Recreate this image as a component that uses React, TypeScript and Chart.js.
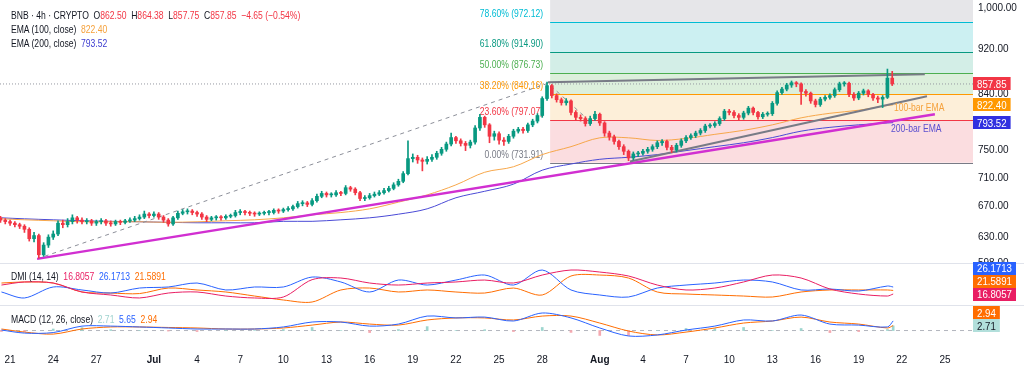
import React, { useEffect, useRef } from 'react';
import { Chart, registerables } from 'chart.js';

Chart.register(...registerables);

const FONT = "'Liberation Sans', Arial, sans-serif";
const TEXT = '#131722';
const UP = '#089981';
const DOWN = '#f23645';
const SQUEEZE = 0.78;

// ---- time axis (days since 21 Jun 00:00) ----
const viewStartDay = -0.7;
const viewEndDay = 66.95;
const xTickDays = [0, 3, 6, 10, 13, 16, 19, 22, 25, 28, 31, 34, 37, 41, 44, 47, 50, 53, 56, 59, 62, 65];
const xTickLabels = ['21', '24', '27', 'Jul', '4', '7', '10', '13', '16', '19', '22', '25', '28', 'Aug', '4', '7', '10', '13', '16', '19', '22', '25'];

// ---- price pane ----
const priceTicks = [598, 630, 670, 710, 750, 840, 920, 1000];
const priceMin = 598;
const priceMax = 1016;

// 8h candles, first one at 20 Jun 16:00
const candleStartDay = -2 / 3;
const candleStepDays = 1 / 3;
const firstOpen = 655;
const closes = [
  652, 650, 648, 646, 644, 640, 628, 632, 608, 620,
  630, 634, 648, 646, 650, 655, 652, 650, 651, 648,
  650, 651, 648, 647, 650, 649, 651, 652, 654, 656,
  660, 658, 660, 656, 652, 647, 655, 661, 663, 664,
  662, 660, 656, 653, 655, 656, 655, 657, 658, 662,
  663, 662, 661, 660, 661, 662, 662, 665, 664, 666,
  667, 670, 674, 675, 673, 678, 684, 688, 686, 686,
  689, 688, 696, 694, 689, 681, 682, 685, 687, 689,
  692, 695, 700, 705, 716, 738, 740, 736, 734, 737,
  740, 746, 752, 760, 770, 765, 761, 758, 763, 785,
  802, 790, 772, 776, 766, 764, 772, 780, 783, 781,
  790, 796, 805, 833, 855, 838, 831, 826, 829, 810,
  802, 800, 792, 800, 807, 793, 777, 771, 764, 756,
  749, 739, 745, 746, 749, 752, 756, 762, 764, 755,
  751, 758, 765, 770, 773, 777, 781, 788, 789, 792,
  800, 812, 810, 805, 802, 809, 817, 810, 803, 807,
  808, 825, 843, 849, 856, 860, 858, 845, 842, 829,
  823, 832, 835, 838, 848, 858, 859, 840, 834, 842,
  846, 840, 834, 832, 835, 868, 857.85,
];
const highs = [
  657, 654, 652, 650, 648, 646, 642, 636, 634, 623,
  633, 638, 651, 652, 654, 659, 657, 655, 654, 653,
  652, 654, 653, 651, 652, 652, 653, 655, 657, 659,
  664, 662, 663, 662, 658, 654, 657, 664, 666, 667,
  666, 664, 662, 658, 657, 658, 658, 659, 660, 665,
  666, 665, 664, 663, 663, 664, 665, 667, 667, 668,
  670, 672, 677, 678, 677, 681, 687, 691, 690, 689,
  692, 691, 699, 698, 696, 691, 685, 688, 690, 692,
  695, 698, 703, 708, 719, 765, 745, 743, 739, 741,
  744, 749, 755, 763, 777, 772, 768, 764, 766, 789,
  807, 804, 792, 780, 779, 770, 775, 783, 786, 786,
  793, 799, 808, 836, 861, 857, 841, 834, 833, 831,
  813, 806, 803, 804, 812, 809, 795, 780, 774, 766,
  759, 751, 748, 749, 752, 755, 759, 765, 767, 766,
  758, 761, 768, 773, 776, 780, 784, 791, 792, 795,
  803, 815, 815, 813, 808, 812, 820, 819, 812, 810,
  811, 828, 846, 852, 859, 863, 862, 860, 848, 844,
  832, 835, 838, 841, 851, 861, 862, 861, 843, 845,
  849, 848, 842, 837, 838, 884, 880,
];
const lows = [
  649, 647, 645, 643, 641, 636, 625, 624, 604, 606,
  617, 627, 632, 642, 643, 647, 648, 647, 647, 645,
  645, 647, 645, 644, 645, 646, 647, 649, 650, 652,
  654, 655, 656, 653, 649, 644, 645, 653, 659, 660,
  659, 657, 653, 650, 651, 652, 652, 653, 655, 656,
  659, 659, 658, 657, 658, 659, 659, 660, 661, 662,
  664, 665, 668, 671, 670, 671, 676, 682, 683, 683,
  684, 685, 686, 691, 686, 678, 678, 680, 683, 685,
  687, 690, 693, 698, 703, 714, 733, 731, 720, 730,
  734, 737, 743, 749, 757, 761, 757, 750, 754, 760,
  781, 786, 762, 766, 760, 758, 761, 769, 777, 777,
  778, 787, 793, 802, 830, 834, 827, 822, 822, 806,
  797, 796, 788, 789, 797, 789, 772, 766, 760, 752,
  744, 735, 736, 741, 743, 746, 749, 753, 758, 751,
  747, 748, 755, 762, 767, 770, 774, 778, 785, 786,
  789, 797, 806, 801, 798, 799, 806, 806, 799, 800,
  804, 805, 822, 840, 846, 852, 853, 823, 837, 825,
  819, 820, 829, 832, 835, 845, 854, 836, 830, 831,
  839, 836, 830, 826, 818, 833, 855,
];

// indicator samples (days)
const sampleDays = [-0.6, 1, 3, 5, 7, 9, 11, 13, 15, 17, 19, 21, 23, 25, 27, 29, 31, 33, 35, 37, 39, 41, 43, 45, 47, 49, 51, 53, 55, 57, 59, 61, 61.4];
const ema100 = [653.7, 652.4, 651.1, 649.8, 649.8, 649.8, 649.1, 649.8, 651.1, 652.4, 655, 659, 662, 667, 676, 686, 700, 718, 726, 744, 756, 769.6, 769.6, 765.5, 768.7, 775, 781.3, 790, 801.2, 808.6, 813.6, 821.5, 822.4];
const ema200 = [655, 653.7, 652.4, 651.1, 650.4, 649.8, 649.1, 648.5, 648.5, 648.5, 650.4, 650.4, 652.4, 655, 659.8, 667, 682, 691, 701, 721, 730, 737, 740, 744, 750, 756, 762, 770, 780, 786, 790, 793, 793.52];

// DMI pane
const dmiPlus = [19.5, 11.5, 26.2, 22.2, 18.1, 24.8, 26.2, 31.5, 22.2, 26.2, 26.2, 39.5, 32.9, 19.5, 35.5, 28.8, 35.5, 42.2, 28.8, 48.9, 22.2, 15.5, 12.8, 24.8, 28.8, 31.5, 35.5, 32.9, 22.2, 23.5, 20.8, 27.5, 26.1713];
const dmiMinus = [31.5, 32.9, 31.5, 19.5, 18.1, 17.4, 24.8, 22.2, 19.5, 14.1, 8.8, 6.1, 22.2, 24.8, 19.5, 22.2, 19.5, 18.1, 24.8, 15.5, 40.9, 42.2, 38.2, 19.5, 16.8, 15.5, 14.1, 12.8, 19.5, 22.2, 22.2, 22.2, 21.5891];
const adx = [28.8, 32.9, 31.5, 19.5, 15.5, 11.5, 18.1, 19.5, 14.1, 11.5, 12.8, 36, 38.2, 31.5, 28.8, 31.5, 32.9, 35.5, 31.5, 42.2, 48.9, 46.2, 40.9, 28.8, 22.2, 24.8, 32.9, 42.2, 38.2, 23.5, 16.8, 14.1, 16.8057];

// MACD pane
const macdLine = [0.3, -1.5, -1.2, 2.6, 2.6, 2.1, 1.5, 0.9, 0.9, 0.9, 2.1, 5.0, 5.0, 2.6, 3.8, 8.5, 7.4, 7.9, 5.6, 10.3, 7.4, 1.5, -3.2, -2.6, 0.3, 2.6, 6.2, 5.6, 9.1, 3.8, 3.2, 2.1, 5.65];
const signalLine = [0.9, -0.9, -2.1, 0.9, 2.1, 2.1, 1.8, 1.5, 0.9, 0.9, 1.5, 3.2, 5.0, 3.8, 3.2, 6.2, 7.4, 7.4, 6.2, 8.5, 8.5, 4.4, -0.3, -2.6, -0.9, 1.5, 4.4, 5.6, 7.9, 5.0, 3.8, 1.5, 2.94];
const macdHist = [-0.6, -0.6, 0.9, 1.7, 0.5, 0, -0.3, -0.6, 0, 0, 0.6, 1.8, 0, -1.2, 0.6, 2.3, 0, 0.5, -0.6, 1.8, -1.1, -2.9, -2.9, 0, 1.2, 1.1, 1.8, 0, 1.2, -1.2, -0.6, 0.6, 2.71];

// Fibonacci retracement
const fibStartDay = 37.55;
const fibPercents = ['0.00%', '23.60%', '38.20%', '50.00%', '61.80%', '78.60%'];
const fibPrices = [731.91, 797.07, 840.16, 876.73, 914.9, 972.12];
const fibColors = ['#787b86', '#f23645', '#ff9800', '#4caf50', '#089981', '#00bcd4'];
const fibFills = ['#fbdde0', '#fdefd9', '#dcefdc', '#d3eee7', '#ccf0f2', '#e6e6e9'];

// drawn trend lines
const magentaDays = [1.88, 64.3];
const magentaPrices = [603, 807];
const greyTopDays = [37.4, 63.6];
const greyTopPrices = [861, 875];
const greyRiseDays = [43.1, 63.75];
const greyRisePrices = [733.6, 836.8];
const dashDays = [1.88, 37.4, 40.1];
const dashPrices = [603, 859, 800];
const lastPrice = 857.85;

// EMA annotations
const emaLabelTexts = ['100-bar EMA', '200-bar EMA'];
const emaLabelDays = [61.45, 61.25];
const emaLabelPrices = [818, 784];
const emaLabelColors = ['#f5a13c', '#5b4fcf'];

// axis badges
const mainBadgeValues = [857.85, 822.4, 793.52];
const mainBadgeColors = ['#f23645', '#ff9800', '#3030e0'];
const dmiBadgeValues = [26.1713, 21.5891, 16.8057];
const dmiBadgeColors = ['#2962ff', '#ff6d00', '#e91e63'];
const macdBadgeValues = [2.94, 2.71];
const macdBadgeColors = ['#ff6d00', '#b2dfdb'];
const macdBadgeText = ['#ffffff', '#131722'];

const dayOf = (i: number) => candleStartDay + i * candleStepDays;
const opens = closes.map((c, i) => (i === 0 ? firstOpen : closes[i - 1]));
const pts = (days: number[], vals: number[]) => days.map((d, i) => ({ x: d, y: vals[i] }));

function squeezedText(ctx: any, text: string, x: number, y: number, align: string) {
  ctx.save();
  ctx.translate(x, y);
  ctx.scale(SQUEEZE, 1);
  ctx.textAlign = align;
  ctx.fillText(text, 0, 0);
  ctx.restore();
}

function drawBadges(chart: any, scaleId: string, values: number[], colors: string[], texts: string[], digits: number) {
  const s = chart.scales[scaleId];
  const ctx = chart.ctx;
  const items = values.map((v, i) => ({ v, i, y: s.getPixelForValue(v) })).sort((a, b) => b.y - a.y);
  for (let k = 1; k < items.length; k++) {
    if (items[k].y > items[k - 1].y - 13) items[k].y = items[k - 1].y - 13;
  }
  ctx.save();
  ctx.font = `11px ${FONT}`;
  ctx.textBaseline = 'middle';
  for (const it of items) {
    const label = it.v.toFixed(digits);
    const w = ctx.measureText(label).width * 0.88 + 8;
    ctx.fillStyle = colors[it.i];
    ctx.fillRect(s.left, Math.round(it.y - 6.5), w, 13);
    ctx.fillStyle = texts[it.i];
    ctx.save();
    ctx.translate(s.left + 4, Math.round(it.y) + 0.5);
    ctx.scale(0.88, 1);
    ctx.textAlign = 'left';
    ctx.fillText(label, 0, 0);
    ctx.restore();
  }
  ctx.restore();
}

const tvPlugin = {
  id: 'tv',
  beforeDatasetsDraw(chart: any) {
    const { ctx, chartArea, scales } = chart;
    const xs = scales.x;
    const ys = scales.y;
    const x0 = xs.getPixelForValue(fibStartDay);
    const x1 = chartArea.right;
    ctx.save();
    for (let i = 0; i < fibPrices.length; i++) {
      const yA = ys.getPixelForValue(fibPrices[i]);
      const yB = i + 1 < fibPrices.length ? ys.getPixelForValue(fibPrices[i + 1]) : ys.top;
      ctx.fillStyle = fibFills[i];
      ctx.fillRect(x0, yB, x1 - x0, yA - yB);
    }
    ctx.lineWidth = 1;
    ctx.font = `11px ${FONT}`;
    ctx.textBaseline = 'middle';
    for (let i = 0; i < fibPrices.length; i++) {
      const y = Math.round(ys.getPixelForValue(fibPrices[i])) + 0.5;
      ctx.strokeStyle = fibColors[i];
      ctx.beginPath();
      ctx.moveTo(x0, y);
      ctx.lineTo(x1, y);
      ctx.stroke();
      ctx.fillStyle = fibColors[i];
      squeezedText(ctx, `${fibPercents[i]} (${fibPrices[i].toFixed(2)})`, x0 - 7, y - 9, 'right');
    }
    ctx.restore();
  },
  afterDatasetsDraw(chart: any) {
    const { ctx, scales } = chart;
    ctx.save();
    ctx.font = `11px ${FONT}`;
    ctx.textBaseline = 'middle';
    emaLabelTexts.forEach((t, i) => {
      ctx.fillStyle = emaLabelColors[i];
      squeezedText(ctx, t, scales.x.getPixelForValue(emaLabelDays[i]), scales.y.getPixelForValue(emaLabelPrices[i]), 'left');
    });
    ctx.restore();
  },
  afterDraw(chart: any) {
    const { ctx, scales } = chart;
    ctx.save();
    ctx.strokeStyle = '#e0e3eb';
    ctx.lineWidth = 1;
    [scales.yDmi.top, scales.yMacd.top].forEach((t: number) => {
      const y = Math.round(t) + 0.5;
      ctx.beginPath();
      ctx.moveTo(0, y);
      ctx.lineTo(chart.width, y);
      ctx.stroke();
    });
    ctx.restore();
    drawBadges(chart, 'y', mainBadgeValues, mainBadgeColors, ['#fff', '#fff', '#fff'], 2);
    drawBadges(chart, 'yDmi', dmiBadgeValues, dmiBadgeColors, ['#fff', '#fff', '#fff'], 4);
    drawBadges(chart, 'yMacd', macdBadgeValues, macdBadgeColors, macdBadgeText, 2);
  },
};

const fixVertical = (s: any) => {
  s.width = 51;
  s.paddingTop = 0;
  s.paddingBottom = 0;
};

function buildConfig(): any {
  const line = (data: any[], color: string, yAxisID: string, extra: any = {}) => ({
    type: 'line',
    data,
    yAxisID,
    borderColor: color,
    borderWidth: 1,
    pointRadius: 0,
    fill: false,
    ...extra,
  });
  return {
    type: 'bar',
    data: {
      datasets: [
        {
          type: 'bar',
          data: closes.map((c, i) => ({ x: dayOf(i), y: [opens[i], c] })),
          yAxisID: 'y',
          backgroundColor: closes.map((c, i) => (c >= opens[i] ? UP : DOWN)),
          barThickness: 3,
          minBarLength: 1,
          grouped: false,
          order: 1,
        },
        {
          type: 'bar',
          data: closes.map((c, i) => ({ x: dayOf(i), y: [lows[i], highs[i]] })),
          yAxisID: 'y',
          backgroundColor: closes.map((c, i) => (c >= opens[i] ? UP : DOWN)),
          barThickness: 1,
          grouped: false,
          order: 2,
        },
        line(pts(greyTopDays, greyTopPrices), '#787b86', 'y', { borderWidth: 2, order: 3 }),
        line(pts(greyRiseDays, greyRisePrices), '#787b86', 'y', { borderWidth: 2, order: 3 }),
        line(pts(magentaDays, magentaPrices), '#d12fd1', 'y', { borderWidth: 2.5, order: 4 }),
        line(pts(dashDays, dashPrices), '#8c8f99', 'y', { borderDash: [4, 4], order: 4 }),
        line(pts([viewStartDay, viewEndDay], [lastPrice, lastPrice]), '#9598a1', 'y', { borderDash: [1, 2], order: 4 }),
        line(pts(sampleDays, ema100), '#f7a74a', 'y', { tension: 0.35, order: 5 }),
        line(pts(sampleDays, ema200), '#4a4ad6', 'y', { tension: 0.35, order: 5 }),
        line(pts(sampleDays, adx), '#e91e63', 'yDmi', { tension: 0.3, order: 6 }),
        line(pts(sampleDays, dmiPlus), '#2962ff', 'yDmi', { tension: 0.3, order: 6 }),
        line(pts(sampleDays, dmiMinus), '#ff6d00', 'yDmi', { tension: 0.3, order: 6 }),
        line(pts([viewStartDay, viewEndDay], [0, 0]), '#b2b5be', 'yMacd', { borderDash: [4, 4], order: 8 }),
        {
          type: 'bar',
          data: pts(sampleDays, macdHist),
          yAxisID: 'yMacd',
          backgroundColor: macdHist.map((v) => (v >= 0 ? '#9ed6cf' : '#f5a9b0')),
          barThickness: 2,
          grouped: false,
          order: 7,
        },
        line(pts(sampleDays, macdLine), '#2962ff', 'yMacd', { tension: 0.3, order: 6 }),
        line(pts(sampleDays, signalLine), '#ff6d00', 'yMacd', { tension: 0.3, order: 6 }),
      ],
    },
    options: {
      responsive: false,
      animation: false,
      events: [],
      layout: { padding: 0 },
      plugins: { legend: { display: false }, tooltip: { enabled: false } },
      scales: {
        x: {
          type: 'linear',
          min: viewStartDay,
          max: viewEndDay,
          bounds: 'data',
          offset: false,
          grid: { display: false, offset: false, drawTicks: false },
          border: { display: false },
          afterBuildTicks: (s: any) => {
            s.ticks = xTickDays.map((v) => ({ value: v }));
          },
          afterFit: (s: any) => {
            s.height = 35;
            s.paddingLeft = 0;
            s.paddingRight = 0;
          },
          ticks: {
            autoSkip: false,
            maxRotation: 0,
            padding: 9,
            color: TEXT,
            callback: (_v: any, i: number) => xTickLabels[i],
            font: (c: any) => ({
              family: FONT,
              size: 10,
              weight: xTickLabels[c.index] === 'Jul' || xTickLabels[c.index] === 'Aug' ? 'bold' : 'normal',
            }),
          },
        },
        y: {
          type: 'logarithmic',
          position: 'right',
          stack: 'panes',
          stackWeight: 263,
          min: priceMin,
          max: priceMax,
          bounds: 'data',
          grid: { display: false, drawTicks: false },
          border: { display: false },
          afterBuildTicks: (s: any) => {
            s.ticks = priceTicks.map((v) => ({ value: v }));
          },
          afterFit: fixVertical,
          ticks: {
            autoSkip: false,
            padding: 5,
            color: TEXT,
            font: { family: FONT, size: 10 },
            callback: (v: any) =>
              Number(v).toLocaleString('en-US', { minimumFractionDigits: 2, maximumFractionDigits: 2 }),
          },
        },
        yDmi: {
          type: 'linear',
          position: 'right',
          stack: 'panes',
          stackWeight: 42,
          min: 2.1,
          max: 58.3,
          grid: { display: false, drawTicks: false },
          border: { display: false },
          afterFit: fixVertical,
          ticks: { display: false },
        },
        yMacd: {
          type: 'linear',
          position: 'right',
          stack: 'panes',
          stackWeight: 40,
          min: -8.5,
          max: 15,
          grid: { display: false, drawTicks: false },
          border: { display: false },
          afterFit: fixVertical,
          ticks: { display: false },
        },
      },
    },
    plugins: [tvPlugin],
  };
}

const red = '#f23645';
const legendBase: React.CSSProperties = {
  position: 'absolute',
  left: 11,
  font: `11px ${FONT}`,
  color: TEXT,
  lineHeight: '14px',
  whiteSpace: 'nowrap',
  transform: `scaleX(${SQUEEZE})`,
  transformOrigin: 'left top',
};
const gap: React.CSSProperties = { marginLeft: 6 };

export default function App() {
  const ref = useRef<HTMLCanvasElement>(null);
  useEffect(() => {
    Chart.defaults.font.family = FONT;
    const chart = new Chart(ref.current as HTMLCanvasElement, buildConfig());
    return () => chart.destroy();
  }, []);
  return (
    <div style={{ position: 'fixed', left: 0, top: 0, width: 1024, height: 380, background: '#fff', overflow: 'hidden' }}>
      <canvas ref={ref} width={1024} height={380} style={{ display: 'block' }} />
      <div style={{ ...legendBase, top: 8 }}>
        <div>
          <span>BNB · 4h · CRYPTO</span>
          <span style={gap}>O</span><span style={{ color: red }}>862.50</span>
          <span style={gap}>H</span><span style={{ color: red }}>864.38</span>
          <span style={gap}>L</span><span style={{ color: red }}>857.75</span>
          <span style={gap}>C</span><span style={{ color: red }}>857.85</span>
          <span style={{ ...gap, color: red }}>−4.65 (−0.54%)</span>
        </div>
        <div>
          <span>EMA (100, close)</span>
          <span style={{ ...gap, color: '#f5a13c' }}>822.40</span>
        </div>
        <div>
          <span>EMA (200, close)</span>
          <span style={{ ...gap, color: '#3c3cd0' }}>793.52</span>
        </div>
      </div>
      <div style={{ ...legendBase, top: 269 }}>
        <span>DMI (14, 14)</span>
        <span style={{ ...gap, color: '#e91e63' }}>16.8057</span>
        <span style={{ ...gap, color: '#2962ff' }}>26.1713</span>
        <span style={{ ...gap, color: '#ff6d00' }}>21.5891</span>
      </div>
      <div style={{ ...legendBase, top: 312 }}>
        <span>MACD (12, 26, close)</span>
        <span style={{ ...gap, color: '#9fd3cf' }}>2.71</span>
        <span style={{ ...gap, color: '#2962ff' }}>5.65</span>
        <span style={{ ...gap, color: '#ff6d00' }}>2.94</span>
      </div>
    </div>
  );
}
